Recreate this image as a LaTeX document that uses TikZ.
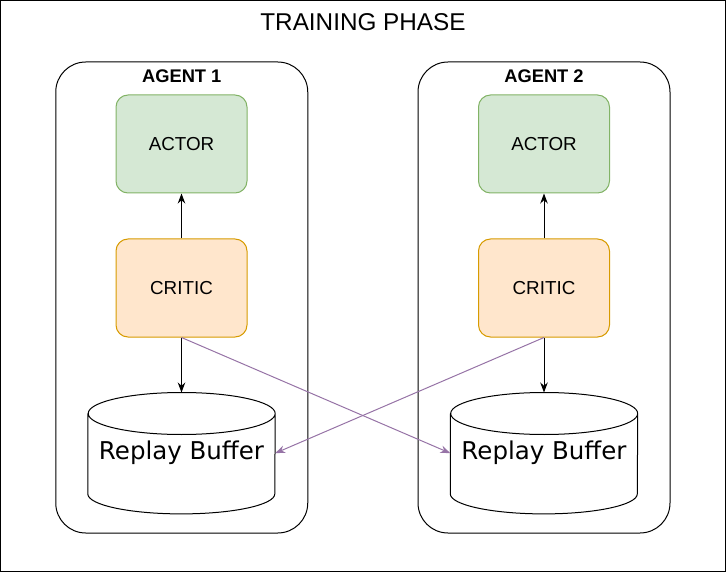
\documentclass[tikz,border=0pt]{standalone}
\usepackage{fontspec}
\setmainfont{Liberation Sans}
\newfontfamily\dejavu{DejaVu Sans}
\usetikzlibrary{positioning}
\usetikzlibrary{arrows.meta}
\definecolor{actfill}{HTML}{D5E8D4}
\definecolor{actline}{HTML}{82B366}
\definecolor{critfill}{HTML}{FFE6CC}
\definecolor{critline}{HTML}{D79B00}
\definecolor{crossline}{HTML}{9673A6}
\begin{document}
\begin{tikzpicture}[x=1pt,y=1pt,
  node distance = 45pt,
  agent/.style = {draw,rounded corners=30pt,line width=1pt,
  minimum width=252pt,minimum height=471pt},
  tag/.style = {font=\fontsize{18.3}{20}\selectfont\bfseries},
  actor/.style = {draw=actline,fill=actfill,rounded corners=12pt,line width=1pt,
  minimum width=131pt,minimum height=98pt,font=\fontsize{18.8}{20}\selectfont},
  critic/.style = {draw=critline,fill=critfill,rounded corners=12pt,line width=1pt,
  minimum width=131pt,minimum height=98pt,font=\fontsize{18.8}{20}\selectfont},
  buffer/.style = {minimum width=187pt,minimum height=121pt,inner sep=0pt,
  font=\dejavu\fontsize{24.5}{28}\selectfont},
  arrow/.style = {line width=1pt,-{Stealth[length=10pt,width=7.5pt]}},
  cross/.style = {arrow,draw=crossline}]
 \useasboundingbox (0,0) rectangle (726,-572);
 \draw[line width=1pt] (0.5,-0.5) rectangle (725.5,-571.5);
 \node[font=\fontsize{24.3}{28}\selectfont] (title) at (363,-22) {TRAINING PHASE};
 % agent 1
 \node[agent] (g1) at (181.75,-297.5) {};
 \node[tag] (t1) at ([yshift=-15pt]g1.north) {AGENT 1};
 \node[actor] (a1) at (181.5,-144) {ACTOR};
 \node[critic,below=of a1] (c1) {CRITIC};
 \node[buffer,below=55pt of c1] (r1) {Replay Buffer};
 % agent 2
 \node[agent] (g2) at (544,-297.5) {};
 \node[tag] (t2) at ([yshift=-15pt]g2.north) {AGENT 2};
 \node[actor] (a2) at (544,-144) {ACTOR};
 \node[critic,below=of a2] (c2) {CRITIC};
 \node[buffer,below=55pt of c2] (r2) {Replay Buffer};
 % cylinders
 \foreach \r in {r1,r2}
  \draw[line width=1pt] ([yshift=-21pt]\r.north west) -- ([yshift=20pt]\r.south west)
   arc[start angle=180,end angle=360,x radius=93.5pt,y radius=20pt]
   -- ([yshift=-21pt]\r.north east)
   arc[start angle=0,end angle=180,x radius=93.5pt,y radius=21pt]
   arc[start angle=180,end angle=360,x radius=93.5pt,y radius=21pt];
 \draw[arrow] (c1) -- (a1);
 \draw[arrow] (c1) -- (r1);
 \draw[arrow] (c2) -- (a2);
 \draw[arrow] (c2) -- (r2);
 \draw[cross] (c1.south) -- (r2.west);
 \draw[cross] (c2.south) -- (r1.east);
\end{tikzpicture}
\end{document}
